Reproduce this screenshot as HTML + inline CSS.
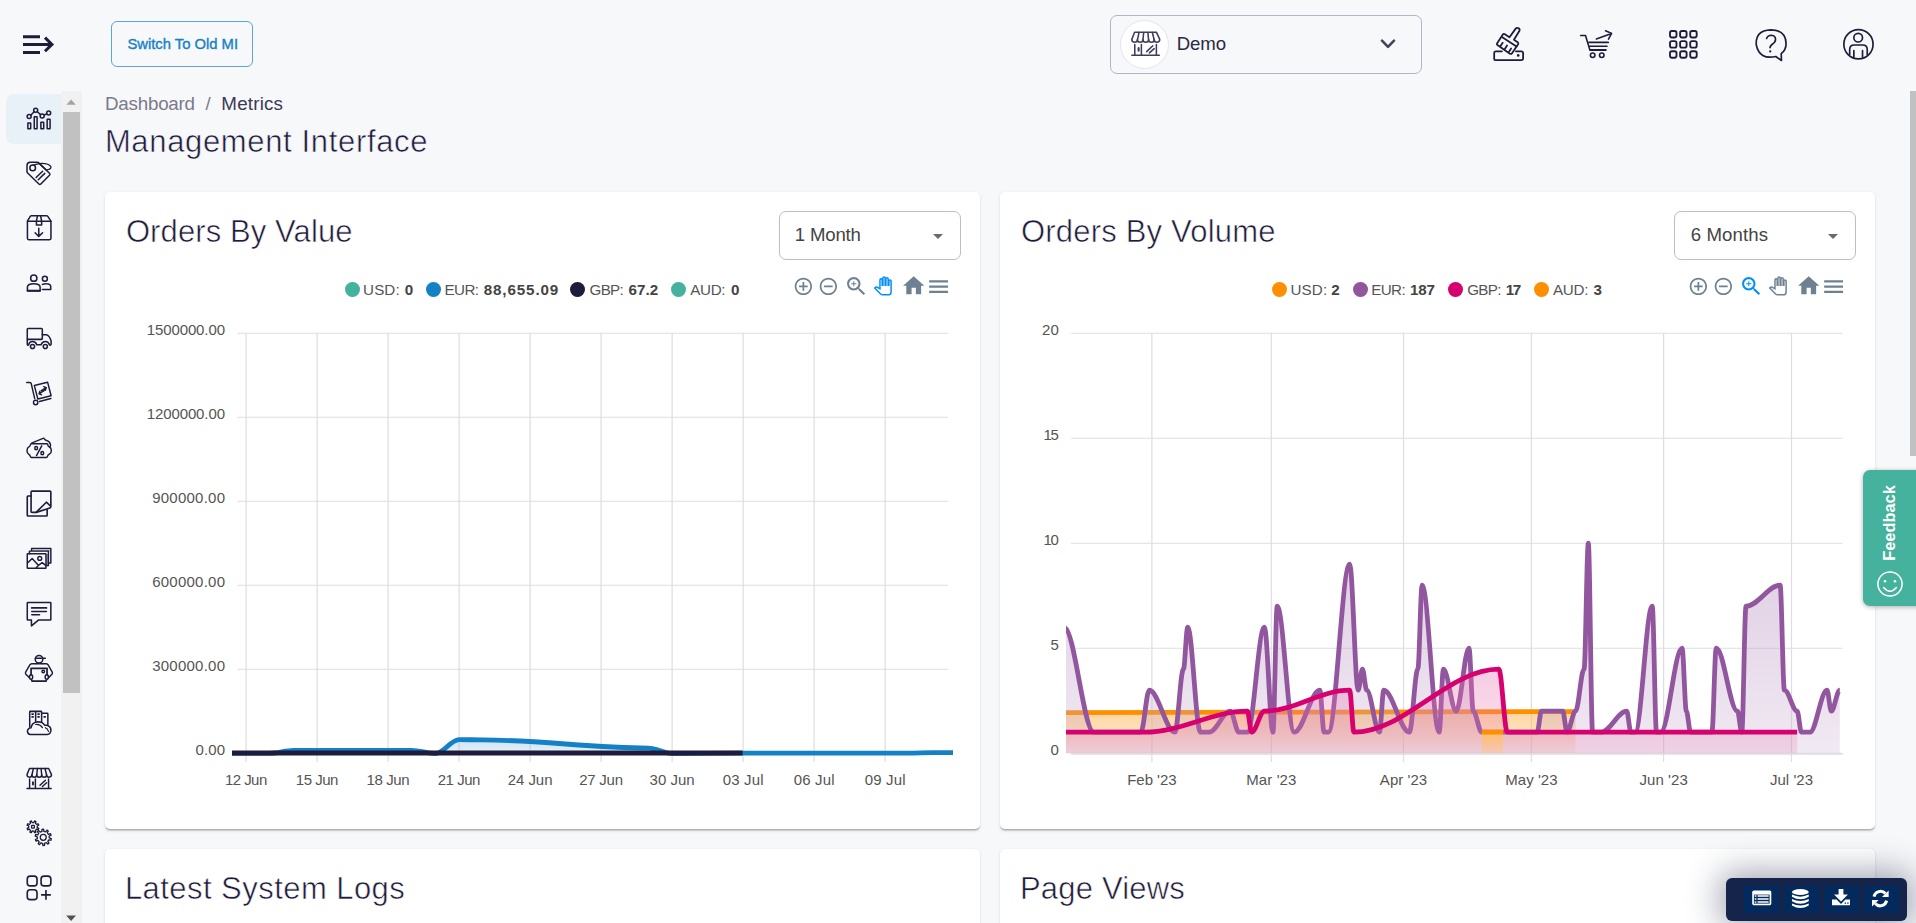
<!DOCTYPE html>
<html lang="en">
<head>
<meta charset="utf-8">
<title>Management Interface - Metrics</title>
<style>
*{box-sizing:border-box;margin:0;padding:0}
html,body{width:1916px;height:923px;overflow:hidden;background:#f7f8fa;font-family:"Liberation Sans",sans-serif}
#root{position:relative;width:1916px;height:923px;overflow:hidden;background:#f7f8fa}
.tx{position:absolute;white-space:pre;display:block;font-weight:normal;margin:0}
.abs{position:absolute}
svg{position:absolute;overflow:visible}
.card{position:absolute;background:#fff;border-radius:5px;box-shadow:0 2.2px 1.2px -1.2px rgba(0,0,0,.15),0 1.2px 1.2px 0 rgba(0,0,0,.1),0 1.2px 3.6px 0 rgba(0,0,0,.1)}
.btn-old{position:absolute;left:111px;top:21px;width:142px;height:46px;border:1px solid #5aa6d8;border-radius:6px;background:transparent}
.store{position:absolute;left:1110px;top:15px;width:312px;height:59px;border:1px solid #b4b4c4;border-radius:7px}
.store .av{position:absolute;left:8.9px;top:3.7px;width:49px;height:49px;border-radius:50%;background:#fff;border:1px solid #dfe6ee}
.sel{position:absolute;width:182px;height:49px;border:1px solid #bcbccb;border-radius:7px;background:#fff}
.sel i{position:absolute;right:17.5px;top:21.5px;width:0;height:0;border-left:5.5px solid transparent;border-right:5.5px solid transparent;border-top:5.5px solid #6b6b6b}
.nav-active{position:absolute;left:6px;top:94px;width:56px;height:50px;background:#e8f0f8;border-radius:8px 0 0 8px}
.sb-track{position:absolute;left:61px;top:91px;width:21px;height:832px;background:#f1f1f1}
.sb-thumb{position:absolute;left:63px;top:112px;width:17px;height:581px;background:#c1c1c1}
.pg-thumb{position:absolute;left:1910px;top:91px;width:6px;height:365px;background:#c1c1c1}
.feedback{position:absolute;left:1863px;top:470px;width:60px;height:136px;background:#45b29d;border-radius:7px 0 0 7px;box-shadow:0 1px 5px rgba(0,0,0,.3)}
.fab{position:absolute;left:1726px;top:878px;width:181px;height:43px;background:#14244a;border-radius:6px;box-shadow:0 0 34px 5px rgba(20,30,60,.42)}
.fab b{position:absolute;top:8px;width:35px;height:27px;background:#022a5c}
.fbk{left:1850.5px;top:513.3px;width:76px;height:20px;font-size:16.4px;line-height:20px;font-weight:bold;color:#fff;transform:rotate(-90deg);transform-origin:center;text-align:center}

</style>
</head>
<body>
<div id="root">

<!-- p10_layout -->
<div class="btn-old"></div>
<span class="tx" style="left:127.40px;top:34px;font-size:14.8px;line-height:20px;color:#1480c8;letter-spacing:-0.006px;-webkit-text-stroke:0.35px #1480c8;">Switch To Old MI</span>
<div class="store"><div class="av"></div></div>
<span class="tx" style="left:1176.70px;top:31px;font-size:18.6px;line-height:25px;color:#2a2846;letter-spacing:-0.086px;">Demo</span>
<div class="nav-active"></div>
<div class="sb-track"></div><div class="sb-thumb"></div>
<span class="tx" style="left:105.00px;top:91px;font-size:18.8px;line-height:25px;color:#7b7a8c;letter-spacing:-0.229px;">Dashboard</span>
<span class="tx" style="left:205.50px;top:91px;font-size:18.6px;line-height:25px;color:#7b7a8c;">/</span>
<span class="tx" style="left:221.30px;top:91px;font-size:18.8px;line-height:25px;color:#3b3955;letter-spacing:0.196px;">Metrics</span>
<h1 class="tx" style="left:104.90px;top:122px;font-size:31px;line-height:39px;color:#1f1b3a;letter-spacing:0.650px;-webkit-text-stroke:0.55px #f7f8fa;">Management Interface</h1>
<div class="card" style="left:105px;top:192px;width:875px;height:637px"></div>
<div class="card" style="left:1000px;top:192px;width:875px;height:637px"></div>
<div class="card" style="left:105px;top:849px;width:875px;height:200px"></div>
<div class="card" style="left:1000px;top:849px;width:875px;height:200px"></div>
<h2 class="tx" style="left:125.90px;top:212px;font-size:31px;line-height:39px;color:#1f1b3a;letter-spacing:0.108px;-webkit-text-stroke:0.55px #fff;">Orders By Value</h2>
<h2 class="tx" style="left:1020.90px;top:212px;font-size:31px;line-height:39px;color:#1f1b3a;letter-spacing:0.207px;-webkit-text-stroke:0.55px #fff;">Orders By Volume</h2>
<h2 class="tx" style="left:124.90px;top:869px;font-size:31px;line-height:39px;color:#1f1b3a;letter-spacing:0.450px;-webkit-text-stroke:0.55px #fff;">Latest System Logs</h2>
<h2 class="tx" style="left:1019.90px;top:869px;font-size:31px;line-height:39px;color:#1f1b3a;letter-spacing:0.195px;-webkit-text-stroke:0.55px #fff;">Page Views</h2>
<div class="sel" style="left:779px;top:211px"><i></i></div>
<span class="tx" style="left:794.70px;top:222px;font-size:18.6px;line-height:25px;color:#444;letter-spacing:-0.157px;">1 Month</span>
<div class="sel" style="left:1674px;top:211px"><i></i></div>
<span class="tx" style="left:1690.70px;top:222px;font-size:18.6px;line-height:25px;color:#444;letter-spacing:0.117px;">6 Months</span>

<!-- p20_charts -->
<style>.dot{position:absolute;width:14.8px;height:14.8px;border-radius:50%}.ax text{font-family:"Liberation Sans",sans-serif;font-size:15px;fill:#555}</style>
<i class="dot" style="left:345.0px;top:281.9px;background:#45b29d"></i>
<span class="tx" style="left:363.10px;top:279px;font-size:15.2px;line-height:21px;color:#555;letter-spacing:0.078px;">USD:</span>
<span class="tx" style="left:404.70px;top:279px;font-size:15.2px;line-height:21px;color:#444;font-weight:bold;">0</span>
<i class="dot" style="left:426.1px;top:281.9px;background:#1480c6"></i>
<span class="tx" style="left:444.60px;top:279px;font-size:15.2px;line-height:21px;color:#555;letter-spacing:-0.655px;">EUR:</span>
<span class="tx" style="left:483.70px;top:279px;font-size:15.2px;line-height:21px;color:#444;font-weight:bold;letter-spacing:0.873px;">88,655.09</span>
<i class="dot" style="left:570.1px;top:281.9px;background:#1f1b3a"></i>
<span class="tx" style="left:589.60px;top:279px;font-size:15.2px;line-height:21px;color:#555;letter-spacing:-0.758px;">GBP:</span>
<span class="tx" style="left:628.50px;top:279px;font-size:15.2px;line-height:21px;color:#444;font-weight:bold;letter-spacing:0.029px;">67.2</span>
<i class="dot" style="left:671.1px;top:281.9px;background:#45b29d"></i>
<span class="tx" style="left:690.20px;top:279px;font-size:15.2px;line-height:21px;color:#555;letter-spacing:-0.322px;">AUD:</span>
<span class="tx" style="left:731.00px;top:279px;font-size:15.2px;line-height:21px;color:#444;font-weight:bold;">0</span>
<i class="dot" style="left:1272.1px;top:281.9px;background:#ff8f00"></i>
<span class="tx" style="left:1290.50px;top:279px;font-size:15.2px;line-height:21px;color:#555;letter-spacing:0.111px;">USD:</span>
<span class="tx" style="left:1331.20px;top:279px;font-size:15.2px;line-height:21px;color:#444;font-weight:bold;">2</span>
<i class="dot" style="left:1352.9px;top:281.9px;background:#92569f"></i>
<span class="tx" style="left:1371.30px;top:279px;font-size:15.2px;line-height:21px;color:#555;letter-spacing:-0.655px;">EUR:</span>
<span class="tx" style="left:1410.00px;top:279px;font-size:15.2px;line-height:21px;color:#444;font-weight:bold;letter-spacing:-0.197px;">187</span>
<i class="dot" style="left:1447.9px;top:281.9px;background:#d6006e"></i>
<span class="tx" style="left:1467.20px;top:279px;font-size:15.2px;line-height:21px;color:#555;letter-spacing:-0.691px;">GBP:</span>
<span class="tx" style="left:1505.80px;top:279px;font-size:15.2px;line-height:21px;color:#444;font-weight:bold;letter-spacing:-1.447px;">17</span>
<i class="dot" style="left:1534.0px;top:281.9px;background:#ff8f00"></i>
<span class="tx" style="left:1553.00px;top:279px;font-size:15.2px;line-height:21px;color:#555;letter-spacing:-0.255px;">AUD:</span>
<span class="tx" style="left:1593.40px;top:279px;font-size:15.2px;line-height:21px;color:#444;font-weight:bold;">3</span>
<svg viewBox="0 0 24 24" style="left:792.92px;top:275.82px;width:20.76px;height:20.76px;fill:#6e8192"><path d="M13 7h-2v4H7v2h4v4h2v-4h4v-2h-4V7zm-1-5C6.48 2 2 6.48 2 12s4.48 10 10 10 10-4.48 10-10S17.52 2 12 2zm0 18c-4.41 0-8-3.59-8-8s3.59-8 8-8 8 3.59 8 8-3.59 8-8 8z"/></svg>
<svg viewBox="0 0 24 24" style="left:818.02px;top:275.82px;width:20.76px;height:20.76px;fill:#6e8192"><path d="M7 11v2h10v-2H7zm5-9C6.48 2 2 6.48 2 12s4.48 10 10 10 10-4.48 10-10S17.52 2 12 2zm0 18c-4.41 0-8-3.59-8-8s3.59-8 8-8 8 3.59 8 8-3.59 8-8 8z"/></svg>
<svg viewBox="0 0 24 24" style="left:844.14px;top:274.04px;width:24.72px;height:24.72px;fill:#6e8192"><path d="M15.5 14h-.79l-.28-.27C15.41 12.59 16 11.11 16 9.5 16 5.91 13.09 3 9.5 3S3 5.91 3 9.5 5.91 16 9.5 16c1.61 0 3.09-.59 4.23-1.57l.27.28v.79l5 4.99L20.49 19l-4.99-5zm-6 0C7.01 14 5 11.99 5 9.5S7.01 5 9.5 5 14 7.01 14 9.5 11.99 14 9.5 14z"/><path d="M12 10h-2v2H9v-2H7V9h2V7h1v2h2v1z"/></svg>
<svg viewBox="0 0 24 24" style="left:874.27px;top:277.27px;width:17.86px;height:17.86px;fill:#fff;stroke:#008ffb;stroke-width:2"><path d="M23 5.5V20c0 2.2-1.8 4-4 4h-7.3c-1.08 0-2.1-.43-2.85-1.19L1 14.83s1.26-1.23 1.3-1.25c.22-.19.49-.29.79-.29.22 0 .42.06.6.16.04.01 4.31 2.46 4.31 2.46V4c0-.83.67-1.5 1.5-1.5S11 3.17 11 4v7h1V1.500c0-.83.67-1.5 1.5-1.5S15 .67 15 1.5V11h1V2.500c0-.83.67-1.5 1.5-1.5s1.5.67 1.5 1.5V11h1V5.500c0-.83.67-1.5 1.5-1.5s1.5.67 1.5 1.5z"/></svg>
<svg viewBox="0 0 24 24" style="left:900.83px;top:273.48px;width:25.44px;height:25.44px;fill:#6e8192"><path d="M10 20v-6h4v6h5v-8h3L12 3 2 12h3v8z"/></svg>
<svg viewBox="0 0 24 24" style="left:926.15px;top:273.90px;width:25.20px;height:25.20px;fill:#6e8192"><path d="M3 18h18v-2H3v2zm0-5h18v-2H3v2zm0-7v2h18V6H3z"/></svg>
<svg viewBox="0 0 24 24" style="left:1687.92px;top:275.82px;width:20.76px;height:20.76px;fill:#6e8192"><path d="M13 7h-2v4H7v2h4v4h2v-4h4v-2h-4V7zm-1-5C6.48 2 2 6.48 2 12s4.48 10 10 10 10-4.48 10-10S17.52 2 12 2zm0 18c-4.41 0-8-3.59-8-8s3.59-8 8-8 8 3.59 8 8-3.59 8-8 8z"/></svg>
<svg viewBox="0 0 24 24" style="left:1713.02px;top:275.82px;width:20.76px;height:20.76px;fill:#6e8192"><path d="M7 11v2h10v-2H7zm5-9C6.48 2 2 6.48 2 12s4.48 10 10 10 10-4.48 10-10S17.52 2 12 2zm0 18c-4.41 0-8-3.59-8-8s3.59-8 8-8 8 3.59 8 8-3.59 8-8 8z"/></svg>
<svg viewBox="0 0 24 24" style="left:1739.14px;top:274.04px;width:24.72px;height:24.72px;fill:#008ffb"><path d="M15.5 14h-.79l-.28-.27C15.41 12.59 16 11.11 16 9.5 16 5.91 13.09 3 9.5 3S3 5.91 3 9.5 5.91 16 9.5 16c1.61 0 3.09-.59 4.23-1.57l.27.28v.79l5 4.99L20.49 19l-4.99-5zm-6 0C7.01 14 5 11.99 5 9.5S7.01 5 9.5 5 14 7.01 14 9.5 11.99 14 9.5 14z"/><path d="M12 10h-2v2H9v-2H7V9h2V7h1v2h2v1z"/></svg>
<svg viewBox="0 0 24 24" style="left:1769.27px;top:277.27px;width:17.86px;height:17.86px;fill:#fff;stroke:#6e8192;stroke-width:2"><path d="M23 5.5V20c0 2.2-1.8 4-4 4h-7.3c-1.08 0-2.1-.43-2.85-1.19L1 14.83s1.26-1.23 1.3-1.25c.22-.19.49-.29.79-.29.22 0 .42.06.6.16.04.01 4.31 2.46 4.31 2.46V4c0-.83.67-1.5 1.5-1.5S11 3.17 11 4v7h1V1.500c0-.83.67-1.5 1.5-1.5S15 .67 15 1.5V11h1V2.500c0-.83.67-1.5 1.5-1.5s1.5.67 1.5 1.5V11h1V5.500c0-.83.67-1.5 1.5-1.5s1.5.67 1.5 1.5z"/></svg>
<svg viewBox="0 0 24 24" style="left:1795.83px;top:273.48px;width:25.44px;height:25.44px;fill:#6e8192"><path d="M10 20v-6h4v6h5v-8h3L12 3 2 12h3v8z"/></svg>
<svg viewBox="0 0 24 24" style="left:1821.15px;top:273.90px;width:25.20px;height:25.20px;fill:#6e8192"><path d="M3 18h18v-2H3v2zm0-5h18v-2H3v2zm0-7v2h18V6H3z"/></svg>
<svg class="ax" width="1916" height="923" viewBox="0 0 1916 923" style="left:0;top:0">
<defs><linearGradient id="gB" x1="0" y1="0" x2="0" y2="1"><stop offset="0" stop-color="#7eb9e0" stop-opacity="0.400"/><stop offset="1" stop-color="#7eb9e0" stop-opacity="0.182"/></linearGradient><linearGradient id="gO" x1="0" y1="0" x2="0" y2="1"><stop offset="0" stop-color="#ffc173" stop-opacity="0.673"/><stop offset="0.5" stop-color="#ffc173" stop-opacity="0.473"/><stop offset="1" stop-color="#ffc173" stop-opacity="0.127"/></linearGradient><linearGradient id="gO2" x1="0" y1="0" x2="0" y2="1"><stop offset="0" stop-color="#ffc173" stop-opacity="1.018"/><stop offset="1" stop-color="#ffc173" stop-opacity="0.273"/></linearGradient><linearGradient id="gP" x1="0" y1="0" x2="0" y2="1"><stop offset="0" stop-color="#c3a2ca" stop-opacity="0.545"/><stop offset="1" stop-color="#c3a2ca" stop-opacity="0.236"/></linearGradient><linearGradient id="gK" x1="0" y1="0" x2="0" y2="1"><stop offset="0" stop-color="#e873af" stop-opacity="0.364"/><stop offset="1" stop-color="#e873af" stop-opacity="0.200"/></linearGradient><clipPath id="cL"><rect x="232" y="320" width="721" height="440"/></clipPath><clipPath id="cR"><rect x="1066" y="320" width="781.5" height="433.6"/></clipPath></defs>
<path d="M237.2 333.25H948M237.2 417.25H948M237.2 501.25H948M237.2 585.25H948M237.2 669.25H948M237.2 753.25H948M246.1 333V762M317.1 333V762M388.1 333V762M459.1 333V762M530.1 333V762M601.1 333V762M672.1 333V762M743.1 333V762M814.1 333V762M885.1 333V762" fill="none" stroke="#dddde3" stroke-width="1.2"/>
<text x="225" y="335.2" text-anchor="end" textLength="78.3" lengthAdjust="spacing">1500000.00</text>
<text x="225" y="419.2" text-anchor="end" textLength="78.3" lengthAdjust="spacing">1200000.00</text>
<text x="225" y="503.2" text-anchor="end" textLength="72.8" lengthAdjust="spacing">900000.00</text>
<text x="225" y="587.2" text-anchor="end" textLength="72.8" lengthAdjust="spacing">600000.00</text>
<text x="225" y="671.2" text-anchor="end" textLength="72.8" lengthAdjust="spacing">300000.00</text>
<text x="225" y="755.2" text-anchor="end" textLength="29.5" lengthAdjust="spacing">0.00</text>
<text x="246.1" y="784.8" text-anchor="middle" textLength="42.3" lengthAdjust="spacing">12 Jun</text>
<text x="317.1" y="784.8" text-anchor="middle" textLength="42.6" lengthAdjust="spacing">15 Jun</text>
<text x="388.1" y="784.8" text-anchor="middle" textLength="43.0" lengthAdjust="spacing">18 Jun</text>
<text x="459.1" y="784.8" text-anchor="middle" textLength="42.7" lengthAdjust="spacing">21 Jun</text>
<text x="530.1" y="784.8" text-anchor="middle" textLength="44.8" lengthAdjust="spacing">24 Jun</text>
<text x="601.1" y="784.8" text-anchor="middle" textLength="43.8" lengthAdjust="spacing">27 Jun</text>
<text x="672.1" y="784.8" text-anchor="middle" textLength="45.0" lengthAdjust="spacing">30 Jun</text>
<text x="743.1" y="784.8" text-anchor="middle" textLength="40.9" lengthAdjust="spacing">03 Jul</text>
<text x="814.1" y="784.8" text-anchor="middle" textLength="40.9" lengthAdjust="spacing">06 Jul</text>
<text x="885.1" y="784.8" text-anchor="middle" textLength="40.9" lengthAdjust="spacing">09 Jul</text>
<g clip-path="url(#cL)">
<path d="M225.00 753.30C240.67 753.30 254.10 753.30 269.77 753.30C278.05 753.30 285.15 750.30 293.43 750.30C334.85 750.30 370.35 750.30 411.77 750.30C420.05 750.30 427.15 753.60 435.44 753.60C443.72 753.60 450.82 739.60 459.10 739.60C467.39 739.60 474.49 739.90 482.77 739.90C540.75 739.90 590.45 748.10 648.44 748.10C656.72 748.10 663.82 753.50 672.11 753.50C696.96 753.50 718.26 753.20 743.11 753.20C801.09 753.20 850.79 753.10 908.78 753.10C917.06 753.10 924.16 752.60 932.44 752.60C942.09 752.60 950.36 752.60 960.00 752.60L960.00 753.20 L225.00 753.20 Z" fill="url(#gB)"/>
<path d="M225.00 753.30C240.67 753.30 254.10 753.30 269.77 753.30C278.05 753.30 285.15 750.30 293.43 750.30C334.85 750.30 370.35 750.30 411.77 750.30C420.05 750.30 427.15 753.60 435.44 753.60C443.72 753.60 450.82 739.60 459.10 739.60C467.39 739.60 474.49 739.90 482.77 739.90C540.75 739.90 590.45 748.10 648.44 748.10C656.72 748.10 663.82 753.50 672.11 753.50C696.96 753.50 718.26 753.20 743.11 753.20C801.09 753.20 850.79 753.10 908.78 753.10C917.06 753.10 924.16 752.60 932.44 752.60C942.09 752.60 950.36 752.60 960.00 752.60" fill="none" stroke="#1480c6" stroke-width="4.8"/>
<path d="M225 752.9H742.6" fill="none" stroke="#1f1b3a" stroke-width="5"/>
</g>
<path d="M1071.2 333.25H1842.5M1071.2 438.25H1842.5M1071.2 543.25H1842.5M1071.2 648.25H1842.5M1071.2 753.25H1842.5M1151.9 333V762M1271.3 333V762M1403.5 333V762M1531.4 333V762M1663.6 333V762M1791.5 333V762" fill="none" stroke="#dddde3" stroke-width="1.2"/>
<text x="1058.8" y="335.2" text-anchor="end" textLength="16.7" lengthAdjust="spacing">20</text>
<text x="1058.8" y="440.2" text-anchor="end" textLength="15.4" lengthAdjust="spacing">15</text>
<text x="1058.8" y="545.2" text-anchor="end" textLength="15.4" lengthAdjust="spacing">10</text>
<text x="1058.8" y="650.2" text-anchor="end" textLength="8.3" lengthAdjust="spacing">5</text>
<text x="1058.8" y="755.2" text-anchor="end" textLength="8.3" lengthAdjust="spacing">0</text>
<text x="1151.9" y="785" text-anchor="middle" textLength="49.3" lengthAdjust="spacing">Feb '23</text>
<text x="1271.3" y="785" text-anchor="middle" textLength="50.2" lengthAdjust="spacing">Mar '23</text>
<text x="1403.5" y="785" text-anchor="middle" textLength="47.3" lengthAdjust="spacing">Apr '23</text>
<text x="1531.4" y="785" text-anchor="middle" textLength="52.2" lengthAdjust="spacing">May '23</text>
<text x="1663.6" y="785" text-anchor="middle" textLength="48.4" lengthAdjust="spacing">Jun '23</text>
<text x="1791.5" y="785" text-anchor="middle" textLength="43.1" lengthAdjust="spacing">Jul '23</text>
<g clip-path="url(#cR)">
<path d="M1025.74 712.70C1218.17 712.70 1383.11 711.60 1575.54 711.60L1575.54 753.60 L1025.74 753.60 Z" fill="url(#gO)"/>
<path d="M1025.74 712.70C1218.17 712.70 1383.11 711.60 1575.54 711.60" fill="none" stroke="#ff8f00" stroke-width="4.8"/>
<path d="M1064.10 627.20C1074.54 627.20 1083.49 732.20 1093.93 732.20C1110.34 732.20 1124.41 732.20 1140.81 732.20C1143.80 732.20 1146.35 690.20 1149.34 690.20C1158.29 690.20 1165.96 732.20 1174.91 732.20C1177.89 732.20 1180.45 669.20 1183.43 669.20C1184.93 669.20 1186.20 627.20 1187.70 627.20C1192.17 627.20 1196.01 732.20 1200.48 732.20C1203.47 732.20 1206.02 732.20 1209.01 732.20C1216.46 732.20 1222.86 711.20 1230.32 711.20C1233.30 711.20 1235.86 732.20 1238.84 732.20C1241.82 732.20 1244.38 732.20 1247.36 732.20C1253.33 732.20 1258.45 627.20 1264.41 627.20C1267.40 627.20 1269.95 732.20 1272.94 732.20C1274.43 732.20 1275.71 606.20 1277.20 606.20C1283.16 606.20 1288.28 732.20 1294.25 732.20C1303.20 732.20 1310.87 690.20 1319.82 690.20C1321.31 690.20 1322.59 732.20 1324.08 732.20C1325.57 732.20 1326.85 732.20 1328.34 732.20C1335.80 732.20 1342.19 564.20 1349.65 564.20C1352.64 564.20 1355.19 690.20 1358.18 690.20C1359.67 690.20 1360.95 669.20 1362.44 669.20C1363.93 669.20 1365.21 690.20 1366.70 690.20C1371.18 690.20 1375.01 732.20 1379.49 732.20C1380.98 732.20 1382.26 690.20 1383.75 690.20C1392.70 690.20 1400.37 732.20 1409.32 732.20C1412.30 732.20 1414.86 669.20 1417.84 669.20C1419.34 669.20 1420.61 585.20 1422.11 585.20C1428.07 585.20 1433.19 732.20 1439.15 732.20C1440.65 732.20 1441.92 669.20 1443.42 669.20C1447.89 669.20 1451.73 711.20 1456.20 711.20C1460.68 711.20 1464.51 648.20 1468.99 648.20C1470.48 648.20 1471.76 711.20 1473.25 711.20C1476.23 711.20 1478.79 732.20 1481.77 732.20C1501.17 732.20 1517.79 732.20 1537.18 732.20C1538.67 732.20 1539.95 711.20 1541.44 711.20C1548.90 711.20 1555.29 711.20 1562.75 711.20C1564.24 711.20 1565.52 732.20 1567.01 732.20C1570.00 732.20 1572.55 711.20 1575.54 711.20C1578.52 711.20 1581.08 669.20 1584.06 669.20C1585.55 669.20 1586.83 543.20 1588.32 543.20C1589.82 543.20 1591.09 732.20 1592.59 732.20C1595.57 732.20 1598.13 732.20 1601.11 732.20C1610.06 732.20 1617.73 711.20 1626.68 711.20C1628.17 711.20 1629.45 732.20 1630.94 732.20C1632.44 732.20 1633.71 732.20 1635.21 732.20C1641.17 732.20 1646.29 606.20 1652.25 606.20C1653.75 606.20 1655.02 732.20 1656.52 732.20C1658.01 732.20 1659.29 732.20 1660.78 732.20C1668.24 732.20 1674.63 648.20 1682.09 648.20C1683.58 648.20 1684.86 711.20 1686.35 711.20C1687.84 711.20 1689.12 732.20 1690.61 732.20C1698.07 732.20 1704.46 732.20 1711.92 732.20C1713.41 732.20 1714.69 648.20 1716.18 648.20C1723.64 648.20 1730.04 711.20 1737.49 711.20C1738.99 711.20 1740.26 732.20 1741.76 732.20C1743.25 732.20 1744.53 606.20 1746.02 606.20C1757.95 606.20 1768.18 585.20 1780.11 585.20C1781.61 585.20 1782.88 690.20 1784.38 690.20C1788.85 690.20 1792.69 711.20 1797.16 711.20C1798.65 711.20 1799.93 732.20 1801.42 732.20C1804.41 732.20 1806.96 732.20 1809.95 732.20C1815.91 732.20 1821.03 690.20 1827.00 690.20C1828.49 690.20 1829.77 711.20 1831.26 711.20C1834.24 711.20 1836.80 690.20 1839.78 690.20L1839.78 753.60 L1064.10 753.60 Z" fill="url(#gP)"/>
<path d="M1064.10 627.20C1074.54 627.20 1083.49 732.20 1093.93 732.20C1110.34 732.20 1124.41 732.20 1140.81 732.20C1143.80 732.20 1146.35 690.20 1149.34 690.20C1158.29 690.20 1165.96 732.20 1174.91 732.20C1177.89 732.20 1180.45 669.20 1183.43 669.20C1184.93 669.20 1186.20 627.20 1187.70 627.20C1192.17 627.20 1196.01 732.20 1200.48 732.20C1203.47 732.20 1206.02 732.20 1209.01 732.20C1216.46 732.20 1222.86 711.20 1230.32 711.20C1233.30 711.20 1235.86 732.20 1238.84 732.20C1241.82 732.20 1244.38 732.20 1247.36 732.20C1253.33 732.20 1258.45 627.20 1264.41 627.20C1267.40 627.20 1269.95 732.20 1272.94 732.20C1274.43 732.20 1275.71 606.20 1277.20 606.20C1283.16 606.20 1288.28 732.20 1294.25 732.20C1303.20 732.20 1310.87 690.20 1319.82 690.20C1321.31 690.20 1322.59 732.20 1324.08 732.20C1325.57 732.20 1326.85 732.20 1328.34 732.20C1335.80 732.20 1342.19 564.20 1349.65 564.20C1352.64 564.20 1355.19 690.20 1358.18 690.20C1359.67 690.20 1360.95 669.20 1362.44 669.20C1363.93 669.20 1365.21 690.20 1366.70 690.20C1371.18 690.20 1375.01 732.20 1379.49 732.20C1380.98 732.20 1382.26 690.20 1383.75 690.20C1392.70 690.20 1400.37 732.20 1409.32 732.20C1412.30 732.20 1414.86 669.20 1417.84 669.20C1419.34 669.20 1420.61 585.20 1422.11 585.20C1428.07 585.20 1433.19 732.20 1439.15 732.20C1440.65 732.20 1441.92 669.20 1443.42 669.20C1447.89 669.20 1451.73 711.20 1456.20 711.20C1460.68 711.20 1464.51 648.20 1468.99 648.20C1470.48 648.20 1471.76 711.20 1473.25 711.20C1476.23 711.20 1478.79 732.20 1481.77 732.20C1501.17 732.20 1517.79 732.20 1537.18 732.20C1538.67 732.20 1539.95 711.20 1541.44 711.20C1548.90 711.20 1555.29 711.20 1562.75 711.20C1564.24 711.20 1565.52 732.20 1567.01 732.20C1570.00 732.20 1572.55 711.20 1575.54 711.20C1578.52 711.20 1581.08 669.20 1584.06 669.20C1585.55 669.20 1586.83 543.20 1588.32 543.20C1589.82 543.20 1591.09 732.20 1592.59 732.20C1595.57 732.20 1598.13 732.20 1601.11 732.20C1610.06 732.20 1617.73 711.20 1626.68 711.20C1628.17 711.20 1629.45 732.20 1630.94 732.20C1632.44 732.20 1633.71 732.20 1635.21 732.20C1641.17 732.20 1646.29 606.20 1652.25 606.20C1653.75 606.20 1655.02 732.20 1656.52 732.20C1658.01 732.20 1659.29 732.20 1660.78 732.20C1668.24 732.20 1674.63 648.20 1682.09 648.20C1683.58 648.20 1684.86 711.20 1686.35 711.20C1687.84 711.20 1689.12 732.20 1690.61 732.20C1698.07 732.20 1704.46 732.20 1711.92 732.20C1713.41 732.20 1714.69 648.20 1716.18 648.20C1723.64 648.20 1730.04 711.20 1737.49 711.20C1738.99 711.20 1740.26 732.20 1741.76 732.20C1743.25 732.20 1744.53 606.20 1746.02 606.20C1757.95 606.20 1768.18 585.20 1780.11 585.20C1781.61 585.20 1782.88 690.20 1784.38 690.20C1788.85 690.20 1792.69 711.20 1797.16 711.20C1798.65 711.20 1799.93 732.20 1801.42 732.20C1804.41 732.20 1806.96 732.20 1809.95 732.20C1815.91 732.20 1821.03 690.20 1827.00 690.20C1828.49 690.20 1829.77 711.20 1831.26 711.20C1834.24 711.20 1836.80 690.20 1839.78 690.20" fill="none" stroke="#92569f" stroke-width="4.8"/>
<path d="M1047.05 732.20C1081.36 732.20 1110.77 732.20 1145.08 732.20C1180.88 732.20 1211.56 711.20 1247.36 711.20C1248.86 711.20 1250.13 732.20 1251.63 732.20C1256.10 732.20 1259.94 711.20 1264.41 711.20C1294.25 711.20 1319.82 690.20 1349.65 690.20C1351.14 690.20 1352.42 732.20 1353.91 732.20C1404.63 732.20 1448.10 669.20 1498.82 669.20C1501.81 669.20 1504.36 732.20 1507.35 732.20C1608.78 732.20 1695.73 732.20 1797.16 732.20L1797.16 753.60 L1047.05 753.60 Z" fill="url(#gK)"/>
<path d="M1047.05 732.20C1081.36 732.20 1110.77 732.20 1145.08 732.20C1180.88 732.20 1211.56 711.20 1247.36 711.20C1248.86 711.20 1250.13 732.20 1251.63 732.20C1256.10 732.20 1259.94 711.20 1264.41 711.20C1294.25 711.20 1319.82 690.20 1349.65 690.20C1351.14 690.20 1352.42 732.20 1353.91 732.20C1404.63 732.20 1448.10 669.20 1498.82 669.20C1501.81 669.20 1504.36 732.20 1507.35 732.20C1608.78 732.20 1695.73 732.20 1797.16 732.20" fill="none" stroke="#d6006e" stroke-width="4.8"/>
<path d="M1481.77 732.20C1489.23 732.20 1495.63 732.20 1503.08 732.20L1503.08 753.60 L1481.77 753.60 Z" fill="url(#gO2)"/>
<path d="M1481.77 732.20C1489.23 732.20 1495.63 732.20 1503.08 732.20" fill="none" stroke="#ff8f00" stroke-width="4.8"/>
</g>
<path d="M1071.2 754.2H1842.6" fill="none" stroke="#dcdcdc" stroke-width="1.3"/>
</svg>

<!-- p30_icons -->
<svg viewBox="0 0 60 60" style="left:0;top:14px;width:60px;height:60px" fill="none" stroke="#1f1b3a" stroke-width="3"><path d="M23 22.7H40M23 30.4H52M23 38.4H40"/><path d="M45 23.6L51.9 30.4L45 37.2" stroke-width="3"/></svg>
<svg viewBox="0 0 923 923" style="left:1116.6px;top:17.2px;width:57px;height:57px" fill="none" stroke="#3f3d5c" stroke-width="25" stroke-linecap="round" stroke-linejoin="round"><path d="M285 248H640L692 362Q692 410 647 410Q602 410 602 365Q602 410 557 410Q512 410 512 365Q512 410 466 410Q420 410 420 365Q420 410 375 410Q330 410 330 365Q330 410 285 410Q240 410 240 362Z"/><path d="M357 250L332 365M432 250L421 365M500 250L511 365M572 250L601 365"/><path d="M288 445V615M395 445V615M638 445V615M240 620H686M480 560L580 465M525 582L602 512"/><path d="M350 502V545" stroke-width="34"/></svg>
<svg viewBox="0 0 20 14" style="left:1378px;top:37.3px;width:20px;height:14px" fill="none" stroke="#45445f" stroke-width="2.6" stroke-linecap="round" stroke-linejoin="round"><path d="M4 3.6L10 9.8L16 3.6"/></svg>
<svg viewBox="0 0 923 923" style="left:1484px;top:19px;width:50px;height:50px" fill="none" stroke="#1f1b3a" stroke-width="33" stroke-linecap="round" stroke-linejoin="round"><path d="M330 596H215Q188 598 188 625V735Q190 760 215 760H695Q722 758 722 735V625Q720 598 695 596H590"/><circle cx="632" cy="672" r="24" fill="#1f1b3a" stroke="none"/><path d="M470 338L378 278Q360 268 348 285L240 452Q232 470 248 482L478 640Q500 652 515 635L632 460Q640 440 622 428L553 383L652 222Q668 190 640 170Q608 152 585 178Z"/><path d="M338 338L600 508M345 440L302 505M425 490L385 555M500 545L462 603"/></svg>
<svg viewBox="0 0 923 923" style="left:1571px;top:19px;width:50px;height:50px" fill="none" stroke="#1f1b3a" stroke-width="29" stroke-linecap="round" stroke-linejoin="round"><path d="M178 305H268L350 575H640" /><path d="M330 432H688M345 503H665"/><path d="M362 572H640" stroke-width="34"/><circle cx="400" cy="668" r="42"/><circle cx="568" cy="668" r="42"/><path d="M468 368L748 266M637 217L750 265L692 372"/></svg>
<svg viewBox="0 0 30 30" style="left:1668.6px;top:29.7px;width:30px;height:30px" fill="none" stroke="#1f1b3a" stroke-width="1.85"><rect x="1.0" y="1.0" width="6.5" height="6.5" rx="1.9"/><rect x="11.1" y="1.0" width="6.5" height="6.5" rx="1.9"/><rect x="21.2" y="1.0" width="6.5" height="6.5" rx="1.9"/><rect x="1.0" y="11.1" width="6.5" height="6.5" rx="1.9"/><rect x="11.1" y="11.1" width="6.5" height="6.5" rx="1.9"/><rect x="21.2" y="11.1" width="6.5" height="6.5" rx="1.9"/><rect x="1.0" y="21.2" width="6.5" height="6.5" rx="1.9"/><rect x="11.1" y="21.2" width="6.5" height="6.5" rx="1.9"/><rect x="21.2" y="21.2" width="6.5" height="6.5" rx="1.9"/></svg>
<svg viewBox="0 0 923 923" style="left:1746px;top:19px;width:50px;height:50px" fill="none" stroke="#1f1b3a" stroke-width="31" stroke-linecap="round" stroke-linejoin="round"><path d="M550 692Q250 760 190 480Q170 210 455 200Q730 200 740 450Q740 570 650 640L655 765Z"/><path d="M380 360Q400 300 470 300Q545 305 545 380Q545 430 480 470Q445 495 443 528"/><circle cx="447" cy="598" r="21" fill="#1f1b3a" stroke="none"/></svg>
<svg viewBox="0 0 923 923" style="left:1833px;top:19px;width:50px;height:50px" fill="none" stroke="#1f1b3a" stroke-width="31" stroke-linecap="round" stroke-linejoin="round"><circle cx="470" cy="465" r="270"/><circle cx="465" cy="345" r="80"/><path d="M308 655V560Q310 482 390 480H550Q630 482 632 560V655M385 582V702M545 582V702"/></svg>
<svg viewBox="0 0 923 923" style="left:14px;top:95.6px;width:50px;height:50px" fill="none" stroke="#1f1b3a" stroke-width="28" stroke-linecap="round" stroke-linejoin="round"><rect x="256" y="500" width="52" height="106" rx="4"/><rect x="374" y="382" width="52" height="224" rx="4"/><rect x="496" y="484" width="52" height="122" rx="4"/><rect x="612" y="428" width="54" height="178" rx="4"/><circle cx="280" cy="380" r="37"/><circle cx="400" cy="265" r="37"/><circle cx="520" cy="368" r="37"/><circle cx="640" cy="315" r="37"/><path d="M308 354L372 292M429 290L492 343M554 352L606 330"/></svg>
<svg viewBox="0 0 923 923" style="left:14px;top:150px;width:50px;height:50px" fill="none" stroke="#1f1b3a" stroke-width="28" stroke-linecap="round" stroke-linejoin="round"><path d="M298 228H428Q448 228 462 242L655 430Q672 448 655 466L495 628Q478 645 460 628L252 425Q240 412 240 395V285Q242 232 298 228Z"/><circle cx="345" cy="330" r="52"/><path d="M350 285Q400 262 470 250Q640 240 682 310Q690 350 600 368M480 262L590 365" stroke-width="24"/><path d="M408 508L528 392M448 548L568 432"/></svg>
<svg viewBox="0 0 923 923" style="left:14px;top:205px;width:50px;height:50px" fill="none" stroke="#1f1b3a" stroke-width="28" stroke-linecap="round" stroke-linejoin="round"><path d="M248 298L300 210Q308 198 325 198H600Q616 198 624 210L682 298V615Q682 640 658 640H272Q248 640 248 615Z"/><path d="M250 298H680M432 204L414 298V370H510V298L492 204M414 300H510"/><path d="M457 428V575M390 512L457 580L528 512"/></svg>
<svg viewBox="0 0 923 923" style="left:14px;top:260px;width:50px;height:50px" fill="none" stroke="#1f1b3a" stroke-width="28" stroke-linecap="round" stroke-linejoin="round"><circle cx="365" cy="335" r="58"/><path d="M248 568V500Q250 440 365 440Q480 440 482 500V568Z"/><path d="M250 568H480" stroke-width="34"/><circle cx="570" cy="348" r="46"/><path d="M524 450Q560 438 600 440Q676 442 678 492V545H524"/></svg>
<svg viewBox="0 0 923 923" style="left:14px;top:315px;width:50px;height:50px" fill="none" stroke="#1f1b3a" stroke-width="28" stroke-linecap="round" stroke-linejoin="round"><rect x="245" y="250" width="278" height="200" rx="14"/><path d="M245 450V540Q248 562 268 555Q285 490 342 490Q400 490 420 550H500Q520 490 578 490Q636 490 655 555Q685 562 685 535V480Q650 372 595 365H523"/><circle cx="342" cy="582" r="38"/><circle cx="578" cy="582" r="38"/></svg>
<svg viewBox="0 0 923 923" style="left:14px;top:370px;width:50px;height:50px" fill="none" stroke="#1f1b3a" stroke-width="27" stroke-linecap="round" stroke-linejoin="round"><path d="M235 230H295Q312 230 318 250L382 528M470 580L680 525"/><path d="M375 285L620 225L685 475L440 535Z"/><circle cx="400" cy="600" r="40"/><path d="M505 382L594 326M548 308L596 325L580 372M466 438L556 382M478 392L462 440L510 458" stroke-width="26"/></svg>
<svg viewBox="0 0 923 923" style="left:14px;top:425px;width:50px;height:50px" fill="none" stroke="#1f1b3a" stroke-width="27" stroke-linecap="round" stroke-linejoin="round"><path d="M320 345H608Q625 345 625 370Q625 395 650 402Q690 420 690 470Q690 520 650 540Q625 550 620 575Q615 600 595 600H325Q305 600 300 575Q295 550 270 540Q240 520 240 470Q240 420 280 400Q300 390 302 370Q305 345 320 345Z"/><path d="M325 335L535 248Q550 240 560 255Q575 280 600 285Q670 300 675 380Q675 400 655 405"/><path d="M415 565L512 385"/><rect x="385" y="395" width="48" height="62" rx="22"/><rect x="498" y="488" width="48" height="62" rx="22"/></svg>
<svg viewBox="0 0 923 923" style="left:14px;top:480px;width:50px;height:50px" fill="none" stroke="#1f1b3a" stroke-width="30" stroke-linecap="round" stroke-linejoin="round"><path d="M318 295H258Q245 295 245 308V650Q245 665 260 665H598Q612 665 612 650V545"/><path d="M410 598H332Q315 598 315 582V222Q315 205 332 205H663Q680 205 680 222V495Q680 512 662 518Z"/><path d="M412 592L598 410L672 480"/></svg>
<svg viewBox="0 0 923 923" style="left:14px;top:535px;width:50px;height:50px" fill="none" stroke="#1f1b3a" stroke-width="27" stroke-linecap="round" stroke-linejoin="round"><path d="M345 280H665V300H345ZM600 350H625V545H600Z" fill="#8d8ba3" stroke="none"/><path d="M325 298V250H680V515H640M285 345V298H635V562H595"/><rect x="245" y="345" width="345" height="270" rx="6"/><path d="M255 512L335 435L450 560L520 510L585 562M410 608L450 560"/><circle cx="475" cy="432" r="36"/></svg>
<svg viewBox="0 0 923 923" style="left:14px;top:590px;width:50px;height:50px" fill="none" stroke="#1f1b3a" stroke-width="28" stroke-linecap="round" stroke-linejoin="round"><path d="M255 230H668Q680 230 680 242V543Q680 555 668 555H450L322 662V555H257Q245 555 245 543V242Q245 230 257 230Z"/><path d="M328 330H598" stroke-width="36"/><path d="M328 395H598M328 455H472"/></svg>
<svg viewBox="0 0 923 923" style="left:14px;top:645px;width:50px;height:50px" fill="none" stroke="#1f1b3a" stroke-width="27" stroke-linecap="round" stroke-linejoin="round"><circle cx="462" cy="262" r="70"/><path d="M395 245H578"/><path d="M395 345H330Q305 348 292 368L215 500Q205 520 220 540L285 605M530 345H598Q618 348 630 368L706 500Q716 520 700 540L638 605"/><path d="M400 345H525" /><path d="M315 545V430H610V545M335 665H590" stroke-width="32"/><path d="M320 640L335 665M605 640L590 665"/><ellipse cx="315" cy="592" rx="30" ry="42"/><ellipse cx="605" cy="592" rx="30" ry="42"/><circle cx="540" cy="490" r="24"/></svg>
<svg viewBox="0 0 923 923" style="left:14px;top:700px;width:50px;height:50px" fill="none" stroke="#1f1b3a" stroke-width="28" stroke-linecap="round" stroke-linejoin="round"><path d="M290 500V222Q290 210 302 210H498Q510 210 510 222V245H612Q625 245 625 258V462M400 212V395M510 245V398"/><path d="M322 262H365M322 312H365M432 262H475M432 312H475M545 312H588" stroke-width="32" stroke-linecap="butt"/><path d="M300 637H610Q680 628 682 552Q676 480 600 466L565 466Q530 400 440 400Q330 410 315 512Q250 522 248 580Q254 632 300 637Z"/><path d="M400 452Q480 440 525 510M578 512Q625 530 636 580" stroke-width="22"/></svg>
<svg viewBox="0 0 923 923" style="left:14px;top:755px;width:50px;height:50px" fill="none" stroke="#1f1b3a" stroke-width="27" stroke-linecap="round" stroke-linejoin="round"><path d="M285 248H640L692 362Q692 410 647 410Q602 410 602 365Q602 410 557 410Q512 410 512 365Q512 410 466 410Q420 410 420 365Q420 410 375 410Q330 410 330 365Q330 410 285 410Q240 410 240 362Z"/><path d="M357 250L332 365M432 250L421 365M500 250L511 365M572 250L601 365"/><path d="M288 445V615M395 445V615M638 445V615M240 620H686M480 560L580 465M525 582L602 512"/><path d="M350 502V545" stroke-width="34"/></svg>
<svg viewBox="0 0 923 923" style="left:14px;top:810px;width:50px;height:50px" fill="none" stroke="#1f1b3a" stroke-width="24" stroke-linecap="round" stroke-linejoin="round"><path d="M428 326L458 340L447 366L416 355L394 377L405 407L379 418L365 389L334 388L320 418L294 407L305 376L283 354L253 365L242 339L271 325L272 294L242 280L253 254L284 265L306 243L295 213L321 202L335 231L366 232L380 202L406 213L395 244L417 266L447 255L458 281L429 295Z"/><rect x="325" y="285" width="50" height="50" rx="8"/><path d="M651 516L688 528L681 558L643 550L624 580L646 611L623 630L596 602L564 614L564 653L533 655L529 616L495 608L472 639L447 622L465 589L443 561L406 573L395 545L431 529L429 494L392 482L399 452L437 460L456 430L434 399L457 380L484 408L516 396L516 357L547 355L551 394L585 402L608 371L633 388L615 421L637 449L674 437L685 465L649 481Z"/><circle cx="540" cy="505" r="55"/></svg>
<svg viewBox="0 0 923 923" style="left:14px;top:865px;width:50px;height:50px" fill="none" stroke="#1f1b3a" stroke-width="30" stroke-linecap="round" stroke-linejoin="round"><rect x="245" y="205" width="180" height="180" rx="55"/><rect x="500" y="205" width="180" height="180" rx="55"/><rect x="245" y="457" width="180" height="182" rx="55"/><path d="M500 552H680M590 462V642" stroke-linecap="butt"/></svg>
<svg viewBox="0 0 20 12" style="left:60.6px;top:95.7px;width:20px;height:12px"><path d="M5.5 8.7L10.1 3.6L14.8 8.7Z" fill="#a3a3a3"/></svg>
<svg viewBox="0 0 20 12" style="left:60.6px;top:912px;width:20px;height:12px"><path d="M5.2 3.6L10.1 8.9L15 3.6Z" fill="#505050"/></svg>

<!-- p90_overlays -->
<div class="pg-thumb"></div>
<div class="feedback"></div>
<span class="tx fbk">Feedback</span>
<svg viewBox="0 0 30 30" style="left:1874.8px;top:568.7px;width:30px;height:30px" fill="none" stroke="#fff" stroke-width="1.5" stroke-linecap="round"><circle cx="15" cy="15" r="12.1"/><path d="M8.6 18.6Q15 26 21.4 18.6" stroke-width="1.6"/><circle cx="10" cy="12.2" r="1.3" fill="#fff" stroke="none"/><circle cx="20" cy="12.2" r="1.3" fill="#fff" stroke="none"/></svg>
<div class="fab"><b style="left:18px"></b><b style="left:58px"></b><b style="left:97.8px"></b><b style="left:137.8px"></b></div>
<svg width="1916" height="923" viewBox="0 0 1916 923" style="left:0;top:0"><rect x="1752.2" y="890.4" width="19.1" height="14.8" rx="1.6" fill="#fff"/><rect x="1753.9" y="894.6" width="15.7" height="9" fill="#022a5c"/><path d="M1757.6 896.1H1768.6M1757.6 899.1H1768.6M1757.6 902.1H1768.6" stroke="#fff" stroke-width="1.5"/><path d="M1754.7 896.1H1756.4M1754.7 899.1H1756.4M1754.7 902.1H1756.4" stroke="#fff" stroke-width="1.5"/><ellipse cx="1800.35" cy="892" rx="8.4" ry="3" fill="#fff"/><path d="M1791.95 894.6Q1800.35 898.8 1808.75 894.6V896.8Q1800.35 901.8 1791.95 896.8Z" fill="#fff"/><path d="M1791.95 899.0Q1800.35 903.2 1808.75 899.0V901.2Q1800.35 906.2 1791.95 901.2Z" fill="#fff"/><path d="M1791.95 903.4Q1800.35 907.6 1808.75 903.4V905.6Q1800.35 910.6 1791.95 905.6Z" fill="#fff"/><path d="M1838.6 889H1843.4V894.6H1847.9L1841 901.6L1834.1 894.6H1838.6Z" fill="#fff"/><path d="M1832 899.6H1836.6L1841 904L1845.4 899.6H1850V905.2H1832Z" fill="#fff"/><path d="M1844.6 903.2H1846M1847.2 903.2H1848.6" stroke="#022a5c" stroke-width="1.2"/><g fill="none" stroke="#fff" stroke-width="3"><path d="M1874 896.6A6.6 6.6 0 0 1 1885.4 893.6"/><path d="M1886.6 900.6A6.6 6.6 0 0 1 1875.2 903.6"/></g><path d="M1888.6 890.4V897H1882Z" fill="#fff"/><path d="M1872 906.6V900H1878.6Z" fill="#fff"/></svg>

</div>
</body>
</html>
